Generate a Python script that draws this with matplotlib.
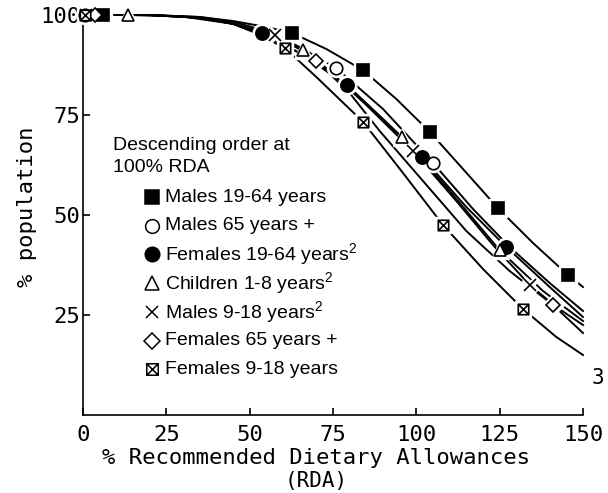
import matplotlib
matplotlib.use("Agg")
import matplotlib.pyplot as plt
from matplotlib.path import Path

plt.rcParams['mathtext.fontset'] = 'custom'
plt.rcParams['mathtext.rm'] = 'Liberation Sans'
plt.rcParams['mathtext.it'] = 'Liberation Sans'
plt.rcParams['mathtext.bf'] = 'Liberation Sans'

# curves: % RDA -> % population
males_19_64_x = [0, 6, 20, 35, 45, 55, 62.7, 73, 84, 94, 104, 114, 124.5, 135, 145.5, 150]
males_19_64_y = [100, 100, 100, 99.5, 98.5, 97, 95.5, 91.5, 86.2, 79, 70.8, 61.5, 51.7, 43, 35, 32]
males_19_64_marks = [1, 6, 8, 10, 12, 14]

males_65_x = [0, 0.5, 20, 35, 45, 55, 65, 76, 90, 105, 117, 128, 140, 150]
males_65_y = [100, 100, 100, 99.5, 98.3, 96, 92, 86.7, 76.5, 63, 51.5, 42, 33, 26]
males_65_marks = [1, 7, 9]

females_19_64_x = [0, 20, 35, 45, 53.7, 65, 79.2, 90, 101.7, 115, 127, 140, 150]
females_19_64_y = [100, 100, 99.3, 97.8, 95.5, 90.5, 82.5, 74, 64.5, 52, 42, 32, 24.5]
females_19_64_marks = [4, 6, 8, 10]

children_x = [0, 13.5, 30, 45, 55, 66, 80, 95.7, 110, 125, 138, 150]
children_y = [100, 100, 99.6, 97.8, 95.3, 91.2, 81.5, 69.5, 56, 41.2, 31, 23.5]
children_marks = [1, 5, 7, 9]

males_9_18_x = [0, 1, 20, 35, 45, 57.6, 70, 85, 99, 112, 123, 134, 142, 150]
males_9_18_y = [100, 100, 100, 99.3, 97.8, 95, 89, 77.5, 66, 53.5, 42.5, 32.5, 27, 22.5]
males_9_18_marks = [1, 5, 8, 11]

females_65_x = [0, 3.5, 20, 35, 45, 55, 70, 80, 89, 102, 115, 128, 141, 150]
females_65_y = [100, 100, 100, 99.3, 97.8, 94.5, 88.5, 80.5, 71, 58.5, 46, 36, 27.5, 20.5]
females_65_marks = [1, 6, 12]

females_9_18_x = [0, 0.5, 20, 35, 45, 52, 60.6, 70, 84, 96, 108, 120, 132, 142, 150]
females_9_18_y = [100, 100, 100, 99.3, 97.8, 95.5, 91.7, 84.5, 73.3, 60.5, 47.5, 36.5, 26.5, 19.5, 15]
females_9_18_marks = [1, 6, 8, 10, 12]

labels = ['Males 19-64 years', 'Males 65 years +', 'Females 19-64 years$^2$',
          'Children 1-8 years$^2$', 'Males 9-18 years$^2$', 'Females 65 years +',
          'Females 9-18 years']

# square with both diagonals
xsq = Path([(-1, -1), (1, -1), (1, 1), (-1, 1), (-1, -1), (-1, -1), (1, 1), (-1, 1), (1, -1)],
           [Path.MOVETO, Path.LINETO, Path.LINETO, Path.LINETO, Path.CLOSEPOLY,
            Path.MOVETO, Path.LINETO, Path.MOVETO, Path.LINETO])

# marker, filled?, size, halo marker
styles = [('s', True, 9, 's'), ('o', False, 9, 'o'), ('o', True, 9.5, 'o'),
          ('^', False, 9, '^'), ('x', False, 8, 'X'), ('D', False, 7.5, 'D'),
          (xsq, False, 7.5, 's')]

series = [(males_19_64_x, males_19_64_y, males_19_64_marks),
          (males_65_x, males_65_y, males_65_marks),
          (females_19_64_x, females_19_64_y, females_19_64_marks),
          (children_x, children_y, children_marks),
          (males_9_18_x, males_9_18_y, males_9_18_marks),
          (females_65_x, females_65_y, females_65_marks),
          (females_9_18_x, females_9_18_y, females_9_18_marks)]

fig = plt.figure(figsize=(6.08, 4.93), dpi=100)
ax = fig.add_axes([83/608, 78/493, 500/608, 400/493])

for (x, y, marks) in series:
    ax.plot(x, y, color='black', lw=1.4, clip_on=False, zorder=2)

for (x, y, marks), (m, filled, ms, halo) in zip(series, styles):
    ax.plot(x, y, ls='none', marker=halo, markevery=marks, ms=ms + 4,
            mfc='white', mec='white', clip_on=False, zorder=3)
    ax.plot(x, y, ls='none', marker=m, markevery=marks, ms=ms,
            mfc='black' if filled else 'white', mec='black', mew=1.2,
            clip_on=False, zorder=4)

ax.set_xlim(0, 150)
ax.set_ylim(0, 100)
for s in ['top', 'right']:
    ax.spines[s].set_visible(False)
for s in ['left', 'bottom']:
    ax.spines[s].set_linewidth(1.2)

tick_font = dict(family='DejaVu Sans Mono', size=16)
ax.set_xticks([0, 25, 50, 75, 100, 125, 150])
ax.set_xticklabels(['0', '25', '50', '75', '100', '125', '150'], fontdict=tick_font)
ax.set_yticks([25, 50, 75, 100])
ax.set_yticklabels(['25', '50', '75', '100'], fontdict=tick_font)
ax.tick_params(axis='x', direction='in', length=5, width=1.2, pad=7)
ax.tick_params(axis='y', direction='in', length=5, width=1.2, pad=2)

ax.text(0.466, -0.1075, '% Recommended Dietary Allowances', transform=ax.transAxes,
        ha='center', va='center', family='DejaVu Sans Mono', size=16)
ax.text(0.466, -0.165, '(RDA)', transform=ax.transAxes,
        ha='center', va='center', family='DejaVu Sans Mono', size=15)
ax.text(-0.112, 0.52, '% population', transform=ax.transAxes, rotation=90,
        ha='center', va='center', family='DejaVu Sans Mono', size=16)
ax.text(1.03, 0.0925, '3', transform=ax.transAxes, ha='center', va='center',
        family='DejaVu Sans Mono', size=15)

# legend block
leg_font = dict(family='Liberation Sans', size=14)
ax.text(0.06, 0.675, 'Descending order at', transform=ax.transAxes, va='center', **leg_font)
ax.text(0.06, 0.6175, '100% RDA', transform=ax.transAxes, va='center', **leg_font)
for i, (lab, (m, filled, ms, halo)) in enumerate(zip(labels, styles)):
    fy = (415 - (197 + 28.7 * i)) / 400
    ax.plot([0.138], [fy], transform=ax.transAxes, marker=m, ms=ms * 1.1,
            mfc='black' if filled else 'white', mec='black', mew=1.1, clip_on=False)
    ax.text(0.164, fy, lab, transform=ax.transAxes, va='center', **leg_font)

fig.savefig('out.png', dpi=100)
